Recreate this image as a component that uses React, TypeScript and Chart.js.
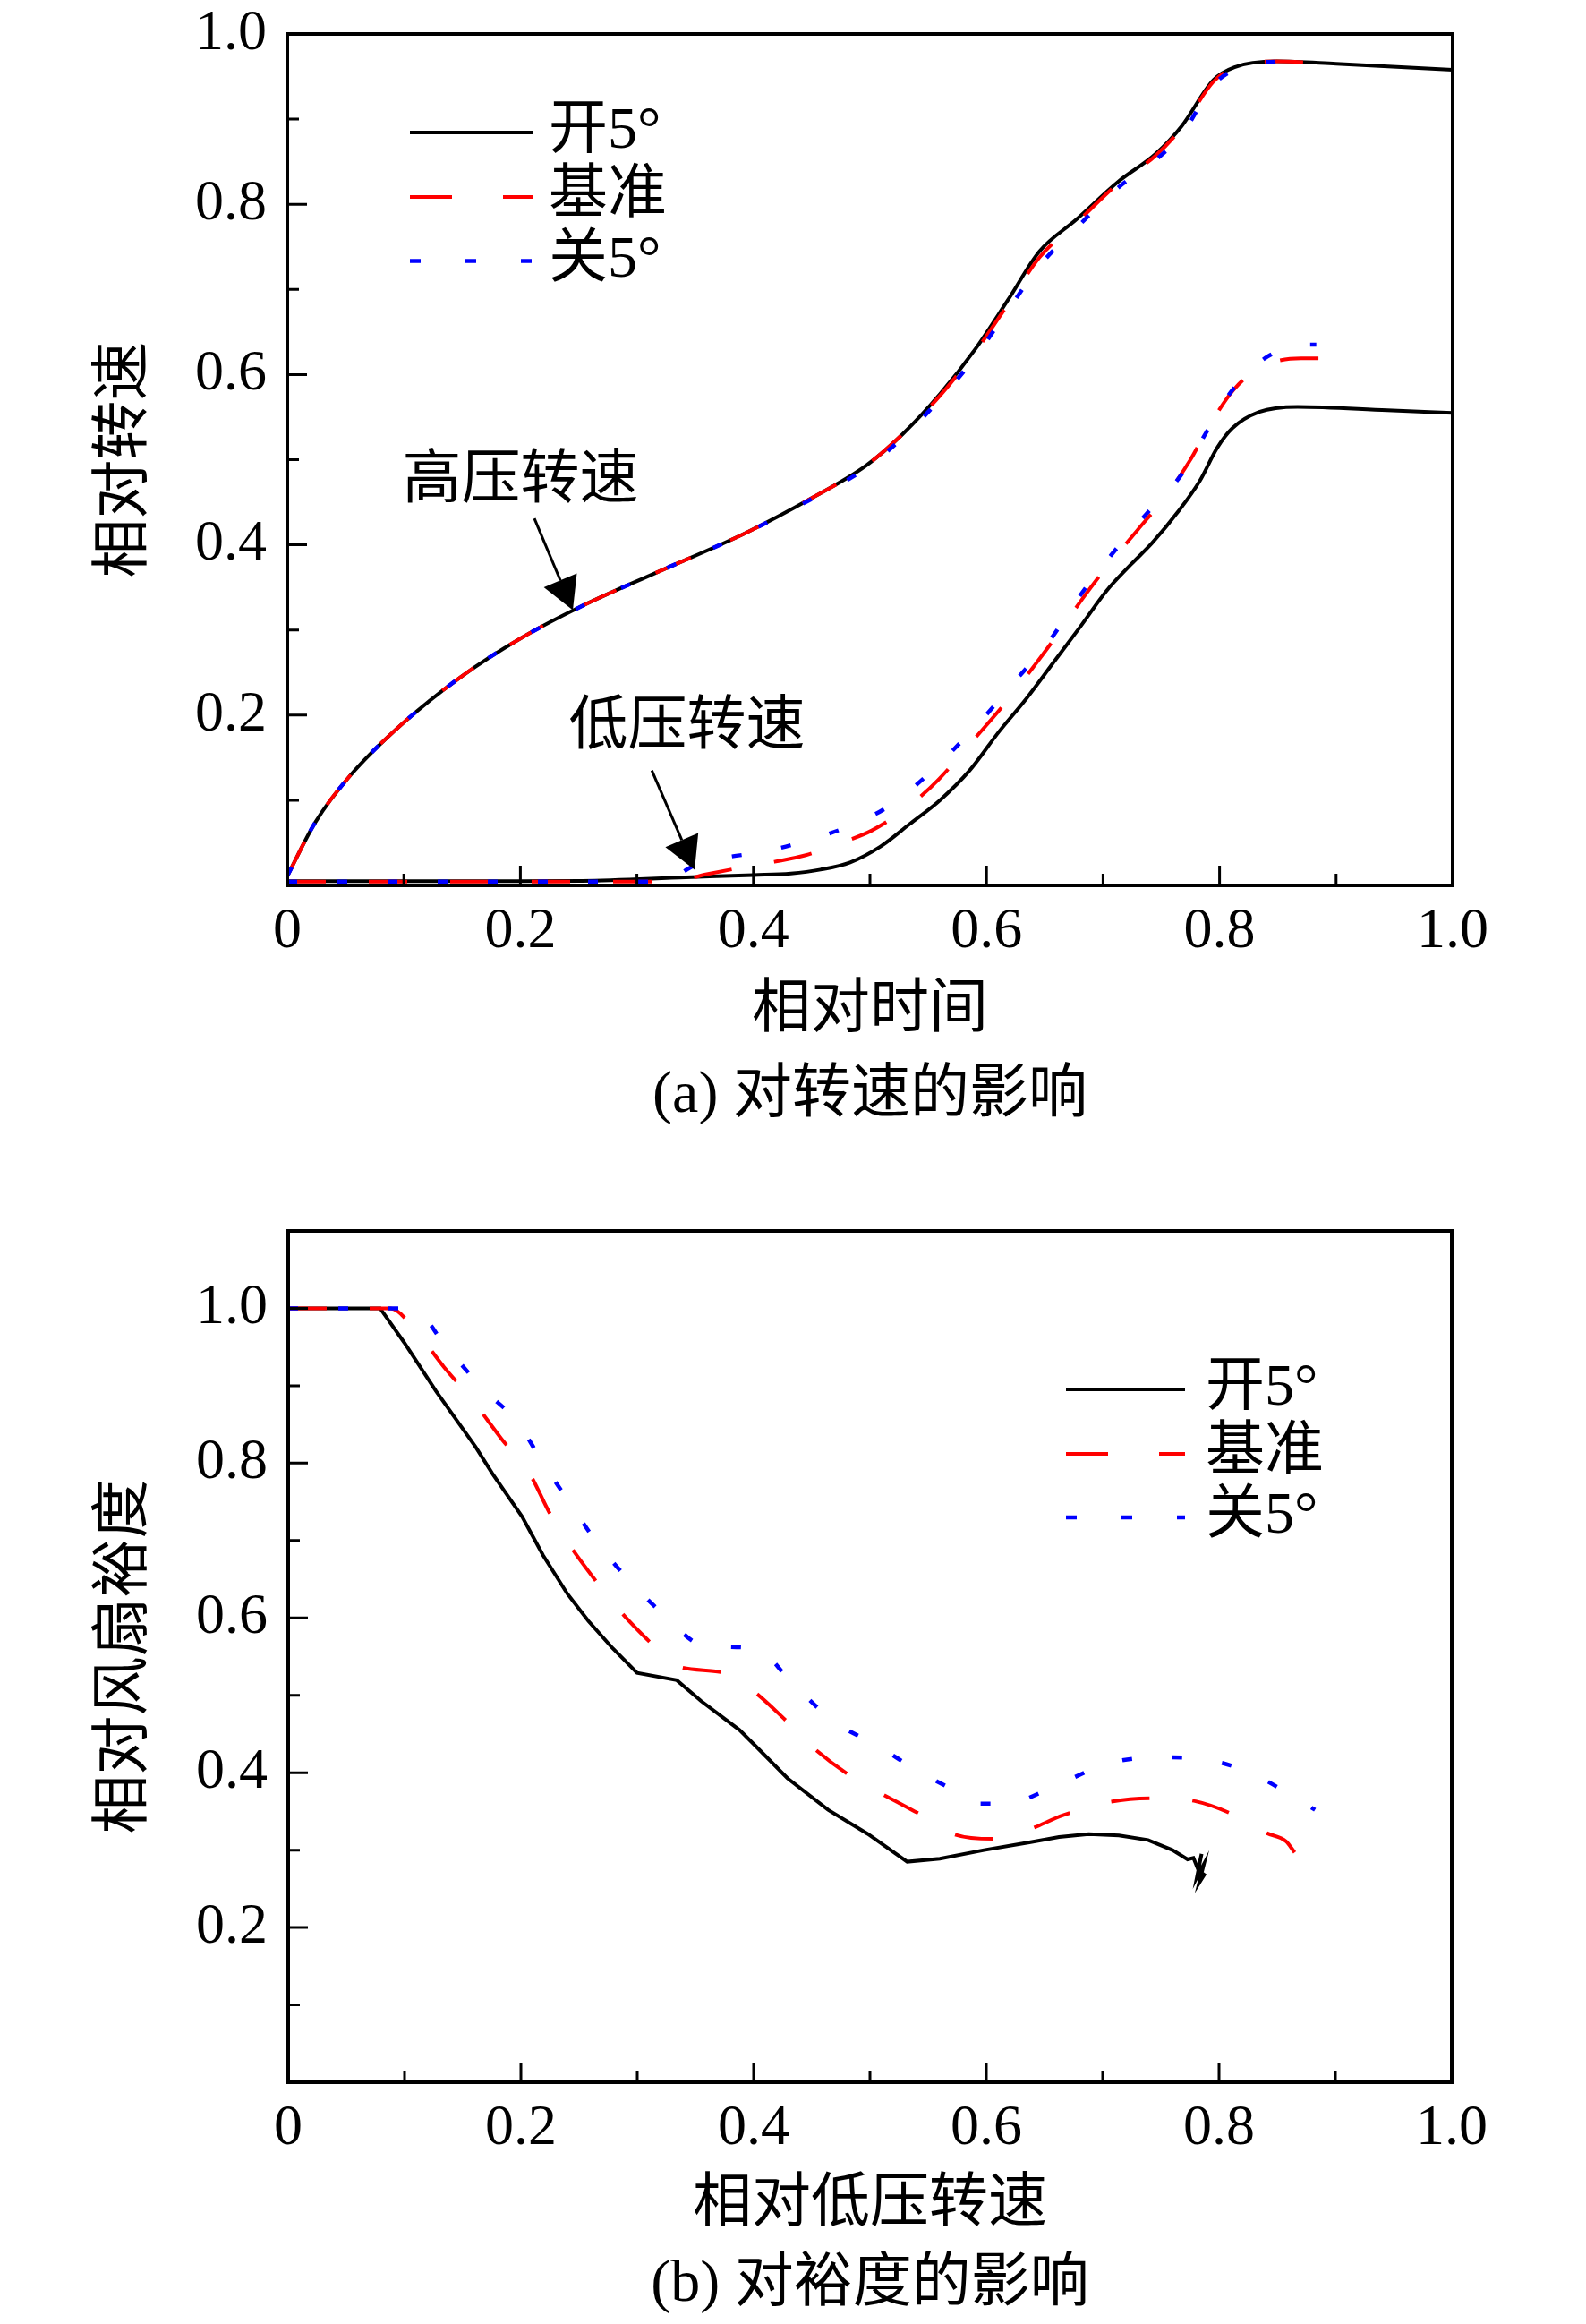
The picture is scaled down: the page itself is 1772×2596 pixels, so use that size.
import React, { useEffect, useRef } from 'react';
import { Chart, registerables } from 'chart.js';

Chart.register(...registerables);

// ---------- shared ----------
const SERIES_NAMES = ['开5°', '基准', '关5°'];
const SERIES_COLORS = ['#000000', '#ff0000', '#0000ff'];

// ---------- (a) speed vs time ----------
const TIME_TICKS = [0, 0.2, 0.4, 0.6, 0.8, 1.0];
const TIME_MINOR = [0.1, 0.3, 0.5, 0.7, 0.9];
const SPEED_TICKS = [0.2, 0.4, 0.6, 0.8, 1.0];
const SPEED_MINOR = [0.1, 0.3, 0.5, 0.7, 0.9];

// high-pressure spool speed
const hpOpenT = [0, 0.024, 0.054, 0.098, 0.149, 0.2, 0.2527, 0.3167, 0.3935, 0.4515, 0.4966, 0.528, 0.56, 0.591, 0.6186, 0.6456, 0.677, 0.7134, 0.745, 0.7676, 0.7947, 0.8128, 0.849, 0.9, 1.0];
const hpOpenN = [0.011, 0.074, 0.129, 0.189, 0.245, 0.29, 0.328, 0.3674, 0.414, 0.456, 0.493, 0.53, 0.577, 0.631, 0.688, 0.745, 0.782, 0.827, 0.859, 0.892, 0.946, 0.961, 0.9678, 0.965, 0.958];
const hpBaseT = [0, 0.024, 0.054, 0.098, 0.149, 0.2, 0.2527, 0.3167, 0.3935, 0.4515, 0.4966, 0.528, 0.56, 0.591, 0.6186, 0.6456, 0.677, 0.7134, 0.745, 0.7676, 0.7947, 0.8128, 0.849, 0.885];
const hpBaseN = [0.011, 0.074, 0.129, 0.189, 0.245, 0.29, 0.328, 0.3674, 0.414, 0.456, 0.493, 0.53, 0.575, 0.628, 0.683, 0.738, 0.778, 0.825, 0.857, 0.89, 0.944, 0.961, 0.9678, 0.966];
const hpCloseT = [0, 0.024, 0.054, 0.098, 0.149, 0.2, 0.2527, 0.3167, 0.3935, 0.4515, 0.4966, 0.528, 0.56, 0.591, 0.6186, 0.6456, 0.677, 0.7134, 0.745, 0.7676, 0.7947, 0.8128, 0.849, 0.87];
const hpCloseN = [0.011, 0.074, 0.129, 0.189, 0.245, 0.29, 0.328, 0.3674, 0.414, 0.455, 0.49, 0.526, 0.571, 0.622, 0.676, 0.728, 0.772, 0.82, 0.852, 0.882, 0.94, 0.958, 0.9675, 0.967];

// low-pressure spool speed
const lpOpenT = [0, 0.2, 0.2527, 0.342, 0.4, 0.432, 0.4575, 0.483, 0.509, 0.534, 0.56, 0.5855, 0.611, 0.634, 0.657, 0.68, 0.703, 0.724, 0.742, 0.765, 0.783, 0.798, 0.811, 0.834, 0.867, 0.944, 1.0];
const lpOpenN = [0.005, 0.005, 0.0053, 0.0095, 0.0122, 0.014, 0.0185, 0.027, 0.0456, 0.072, 0.1, 0.135, 0.181, 0.219, 0.261, 0.303, 0.346, 0.377, 0.402, 0.44, 0.475, 0.514, 0.537, 0.556, 0.562, 0.558, 0.555];
const lpBaseT = [0, 0.331, 0.359, 0.386, 0.418, 0.445, 0.477, 0.502, 0.534, 0.5586, 0.587, 0.616, 0.641, 0.66, 0.683, 0.703, 0.73, 0.753, 0.775, 0.79, 0.812, 0.836, 0.87, 0.901];
const lpBaseN = [0.0045, 0.0045, 0.0128, 0.02, 0.0277, 0.0355, 0.0508, 0.0648, 0.0937, 0.124, 0.168, 0.214, 0.258, 0.293, 0.338, 0.374, 0.418, 0.456, 0.5, 0.537, 0.582, 0.609, 0.619, 0.619];
const lpCloseT = [0, 0.33, 0.337, 0.346, 0.372, 0.409, 0.447, 0.481, 0.515, 0.548, 0.582, 0.597, 0.6226, 0.655, 0.679, 0.707, 0.737, 0.767, 0.789, 0.81, 0.841, 0.877, 0.883];
const lpCloseN = [0.0045, 0.0045, 0.013, 0.021, 0.0316, 0.0396, 0.053, 0.069, 0.092, 0.128, 0.174, 0.196, 0.237, 0.289, 0.338, 0.388, 0.436, 0.482, 0.533, 0.58, 0.621, 0.635, 0.635];

const TEXT_A = ['相对时间', '相对转速', '(a) 对转速的影响'];
const ANNOTATION_TEXT = ['高压转速', '低压转速'];

// ---------- (b) fan margin vs LP speed ----------
const LPS_TICKS = [0, 0.2, 0.4, 0.6, 0.8, 1.0];
const LPS_MINOR = [0.1, 0.3, 0.5, 0.7, 0.9];
const MARGIN_TICKS = [0.2, 0.4, 0.6, 0.8, 1.0];
const MARGIN_MINOR = [0.1, 0.3, 0.5, 0.7, 0.9];

const mOpenX = [0, 0.079, 0.0996, 0.127, 0.161, 0.1754, 0.201, 0.219, 0.24, 0.258, 0.2787, 0.2998, 0.334, 0.355, 0.388, 0.402, 0.429, 0.464, 0.498, 0.532, 0.56, 0.598, 0.637, 0.6625, 0.688, 0.714, 0.739, 0.76, 0.773, 0.778, 0.782, 0.785, 0.781, 0.787, 0.783, 0.788, 0.784];
const mOpenY = [1.0, 1.0, 0.956, 0.893, 0.821, 0.7867, 0.731, 0.681, 0.631, 0.596, 0.561, 0.529, 0.5195, 0.4924, 0.455, 0.434, 0.393, 0.352, 0.321, 0.285, 0.289, 0.3, 0.31, 0.317, 0.3207, 0.319, 0.313, 0.3, 0.288, 0.29, 0.275, 0.295, 0.265, 0.282, 0.258, 0.27, 0.262];
const mBaseX = [0, 0.088, 0.11, 0.134, 0.158, 0.183, 0.208, 0.2246, 0.241, 0.2638, 0.2836, 0.3087, 0.3344, 0.375, 0.4002, 0.426, 0.45, 0.481, 0.505, 0.536, 0.56, 0.568, 0.607, 0.635, 0.666, 0.701, 0.744, 0.78, 0.815, 0.841, 0.8575, 0.865];
const mBaseY = [1.0, 1.0, 0.97, 0.924, 0.882, 0.832, 0.785, 0.7357, 0.696, 0.649, 0.6116, 0.572, 0.5375, 0.529, 0.505, 0.47, 0.434, 0.398, 0.377, 0.352, 0.3327, 0.323, 0.3145, 0.3257, 0.345, 0.361, 0.367, 0.363, 0.344, 0.322, 0.3115, 0.297];
const mCloseX = [0, 0.106, 0.137, 0.168, 0.1967, 0.2185, 0.2428, 0.2656, 0.2933, 0.3236, 0.357, 0.401, 0.4364, 0.47, 0.505, 0.546, 0.587, 0.594, 0.624, 0.632, 0.66, 0.709, 0.753, 0.799, 0.836, 0.865, 0.8825];
const mCloseY = [1.0, 1.0, 0.948, 0.895, 0.8535, 0.8015, 0.7465, 0.697, 0.648, 0.603, 0.5643, 0.5605, 0.5105, 0.465, 0.436, 0.398, 0.366, 0.36, 0.36, 0.3645, 0.3835, 0.4135, 0.42, 0.414, 0.393, 0.368, 0.352];

const TEXT_B = ['相对低压转速', '相对风扇裕度', '(b) 对裕度的影响'];

// ---------- styling ----------
const FAMILY = '"Liberation Serif", "Noto Sans CJK SC", serif';
const TICK_SIZE = 64;
const TEXT_SIZE = 66;
const DASHES = [[], [43, 48], [11, 45]];
const LEGEND_DASHES = [[], [47, 57], [12, 50]];
const WIDTHS = [4, 4, 4.5];
const CANVAS_W = 1772;
const CANVAS_H = 1298;

const pts = (xs: number[], ys: number[]) => xs.map((x, i) => ({ x, y: ys[i] }));
const fmt = (v: number) => (v === 0 ? '0' : v.toFixed(1));

function makeDataset(idx: number, data: { x: number; y: number }[], smooth: boolean) {
  return {
    label: SERIES_NAMES[idx],
    data,
    borderColor: SERIES_COLORS[idx],
    backgroundColor: SERIES_COLORS[idx],
    borderWidth: WIDTHS[idx],
    borderDash: DASHES[idx],
    borderCapStyle: 'butt' as const,
    pointRadius: 0,
    fill: false,
    order: 2 - idx,
    tension: smooth ? 0.4 : 0,
    cubicInterpolationMode: smooth ? ('monotone' as const) : ('default' as const),
  };
}

function framePlugin(xMajor: number[], xMinor: number[], yMajor: number[], yMinor: number[]) {
  return {
    id: 'frameTicks',
    afterDatasetsDraw(chart: any) {
      const { ctx, chartArea: a } = chart;
      const xs = chart.scales.x;
      const ys = chart.scales.y;
      ctx.save();
      ctx.setLineDash([]);
      ctx.strokeStyle = '#000';
      ctx.lineWidth = 3;
      ctx.beginPath();
      const major = 22;
      const minor = 13;
      xMajor.forEach((v) => { const p = xs.getPixelForValue(v); ctx.moveTo(p, a.bottom); ctx.lineTo(p, a.bottom - major); });
      xMinor.forEach((v) => { const p = xs.getPixelForValue(v); ctx.moveTo(p, a.bottom); ctx.lineTo(p, a.bottom - minor); });
      yMajor.forEach((v) => { const p = ys.getPixelForValue(v); ctx.moveTo(a.left, p); ctx.lineTo(a.left + major, p); });
      yMinor.forEach((v) => { const p = ys.getPixelForValue(v); ctx.moveTo(a.left, p); ctx.lineTo(a.left + minor, p); });
      ctx.stroke();
      ctx.lineWidth = 4;
      ctx.strokeRect(a.left, a.top, a.right - a.left, a.bottom - a.top);
      ctx.restore();
    },
  };
}

function legendPlugin(x0: number, x1: number, textX: number, rows: number[]) {
  return {
    id: 'customLegend',
    afterDatasetsDraw(chart: any) {
      const { ctx, chartArea: a } = chart;
      ctx.save();
      ctx.font = `${TEXT_SIZE}px ${FAMILY}`;
      ctx.textAlign = 'left';
      ctx.textBaseline = 'middle';
      SERIES_NAMES.forEach((name, i) => {
        const y = a.top + rows[i];
        ctx.strokeStyle = SERIES_COLORS[i];
        ctx.lineWidth = WIDTHS[i];
        ctx.lineCap = 'butt';
        ctx.setLineDash(LEGEND_DASHES[i]);
        ctx.beginPath();
        ctx.moveTo(a.left + x0, y);
        ctx.lineTo(a.left + x1, y);
        ctx.stroke();
        ctx.setLineDash([]);
        ctx.fillStyle = '#000';
        ctx.fillText(name, a.left + textX, y);
      });
      ctx.restore();
    },
  };
}

function captionPlugin(text: string, offset: number) {
  return {
    id: 'caption',
    afterDraw(chart: any) {
      const { ctx, chartArea: a } = chart;
      ctx.save();
      ctx.font = `${TEXT_SIZE}px ${FAMILY}`;
      ctx.fillStyle = '#000';
      ctx.textAlign = 'center';
      ctx.textBaseline = 'middle';
      ctx.fillText(text, (a.left + a.right) / 2, a.bottom + offset);
      ctx.restore();
    },
  };
}

type Note = { text: string; tx: number; ty: number; fx: number; fy: number; px: number; py: number };

function arrowPlugin(notes: Note[]) {
  return {
    id: 'arrows',
    afterDatasetsDraw(chart: any) {
      const { ctx } = chart;
      const xs = chart.scales.x;
      const ys = chart.scales.y;
      ctx.save();
      ctx.setLineDash([]);
      ctx.font = `${TEXT_SIZE}px ${FAMILY}`;
      ctx.fillStyle = '#000';
      ctx.strokeStyle = '#000';
      ctx.textAlign = 'center';
      ctx.textBaseline = 'middle';
      notes.forEach((n) => {
        ctx.fillText(n.text, xs.getPixelForValue(n.tx), ys.getPixelForValue(n.ty));
        const x1 = xs.getPixelForValue(n.fx);
        const y1 = ys.getPixelForValue(n.fy);
        const x2 = xs.getPixelForValue(n.px);
        const y2 = ys.getPixelForValue(n.py);
        const ang = Math.atan2(y2 - y1, x2 - x1);
        const hl = 36;
        const hw = 20;
        const bx = x2 - hl * Math.cos(ang);
        const by = y2 - hl * Math.sin(ang);
        ctx.lineWidth = 3;
        ctx.beginPath();
        ctx.moveTo(x1, y1);
        ctx.lineTo(bx, by);
        ctx.stroke();
        ctx.beginPath();
        ctx.moveTo(x2, y2);
        ctx.lineTo(bx - hw * Math.sin(ang), by + hw * Math.cos(ang));
        ctx.lineTo(bx + hw * Math.sin(ang), by - hw * Math.cos(ang));
        ctx.closePath();
        ctx.fill();
      });
      ctx.restore();
    },
  };
}

type Layout = {
  padTop: number; padRight: number; yWidth: number; xHeight: number;
  xTickPad: number; yTickPad: number; xTitlePad: number; yTitlePad: number;
};

function buildOptions(
  lay: Layout, xTicks: number[], yTicks: number[], yMax: number, xTitle: string, yTitle: string,
) {
  const tickFont = { family: FAMILY, size: TICK_SIZE, lineHeight: 1.2 };
  const titleFont = { family: FAMILY, size: TEXT_SIZE, lineHeight: 1.2 };
  return {
    responsive: false,
    maintainAspectRatio: false,
    animation: false as const,
    devicePixelRatio: 1,
    layout: { padding: { top: lay.padTop, right: lay.padRight, left: 0, bottom: 0 } },
    plugins: { legend: { display: false }, tooltip: { enabled: false } },
    scales: {
      x: {
        type: 'linear' as const,
        min: 0,
        max: 1,
        grid: { display: false, drawTicks: false },
        border: { display: false },
        afterBuildTicks: (s: any) => { s.ticks = xTicks.map((v) => ({ value: v })); },
        afterFit: (s: any) => { s.height = lay.xHeight; s.paddingLeft = 0; s.paddingRight = 0; },
        ticks: {
          autoSkip: false, maxRotation: 0, minRotation: 0, color: '#000', font: tickFont,
          padding: lay.xTickPad, callback: (v: any) => fmt(Number(v)),
        },
        title: { display: true, text: xTitle, color: '#000', font: titleFont, padding: { top: 0, bottom: lay.xTitlePad } },
      },
      y: {
        type: 'linear' as const,
        min: 0,
        max: yMax,
        grid: { display: false, drawTicks: false },
        border: { display: false },
        afterBuildTicks: (s: any) => { s.ticks = yTicks.map((v) => ({ value: v })); },
        afterFit: (s: any) => { s.width = lay.yWidth; s.paddingTop = 0; s.paddingBottom = 0; },
        ticks: {
          autoSkip: false, color: '#000', font: tickFont, padding: lay.yTickPad,
          callback: (v: any) => fmt(Number(v)),
        },
        title: { display: true, text: yTitle, color: '#000', font: titleFont, padding: { top: lay.yTitlePad, bottom: 0 } },
      },
    },
  };
}

function configA() {
  const lay: Layout = { padTop: 38, padRight: 149, yWidth: 321, xHeight: 309, xTickPad: 14, yTickPad: 23, xTitlePad: 129, yTitlePad: 101 };
  const notes: Note[] = [
    { text: ANNOTATION_TEXT[0], tx: 0.2, ty: 0.474, fx: 0.212, fy: 0.431, px: 0.245, py: 0.3234 },
    { text: ANNOTATION_TEXT[1], tx: 0.343, ty: 0.1845, fx: 0.3128, fy: 0.135, px: 0.3495, py: 0.0185 },
  ];
  return {
    type: 'line' as const,
    data: {
      datasets: [
        makeDataset(0, pts(hpOpenT, hpOpenN), true),
        makeDataset(0, pts(lpOpenT, lpOpenN), true),
        makeDataset(1, pts(hpBaseT, hpBaseN), true),
        makeDataset(1, pts(lpBaseT, lpBaseN), true),
        makeDataset(2, pts(hpCloseT, hpCloseN), true),
        makeDataset(2, pts(lpCloseT, lpCloseN), true),
      ],
    },
    options: buildOptions(lay, TIME_TICKS, SPEED_TICKS, 1.0, TEXT_A[0], TEXT_A[1]),
    plugins: [
      framePlugin(TIME_TICKS, TIME_MINOR, SPEED_TICKS, SPEED_MINOR),
      legendPlugin(137, 274, 292, [110, 182, 253.5]),
      arrowPlugin(notes),
      captionPlugin(TEXT_A[2], 235.5),
    ],
  };
}

function configB() {
  const lay: Layout = { padTop: 77, padRight: 150, yWidth: 322, xHeight: 270, xTickPad: 14, yTickPad: 23, xTitlePad: 93, yTitlePad: 101 };
  return {
    type: 'line' as const,
    data: {
      datasets: [
        makeDataset(0, pts(mOpenX, mOpenY), false),
        makeDataset(1, pts(mBaseX, mBaseY), true),
        makeDataset(2, pts(mCloseX, mCloseY), true),
      ],
    },
    options: buildOptions(lay, LPS_TICKS, MARGIN_TICKS, 1.1, TEXT_B[0], TEXT_B[1]),
    plugins: [
      framePlugin(LPS_TICKS, LPS_MINOR, MARGIN_TICKS, MARGIN_MINOR),
      legendPlugin(869, 1002, 1025, [177, 249, 320]),
      captionPlugin(TEXT_B[2], 227),
    ],
  };
}

function ChartCanvas({ make, top }: { make: () => any; top: number }) {
  const ref = useRef<HTMLCanvasElement>(null);
  useEffect(() => {
    if (!ref.current) return;
    const chart = new Chart(ref.current, make());
    return () => chart.destroy();
  }, [make]);
  return (
    <canvas
      ref={ref}
      width={CANVAS_W}
      height={CANVAS_H}
      style={{ position: 'absolute', left: 0, top, width: CANVAS_W, height: CANVAS_H, display: 'block' }}
    />
  );
}

export default function App() {
  return (
    <div style={{ position: 'absolute', left: 0, top: 0, width: CANVAS_W, height: 2596, background: '#ffffff', overflow: 'hidden' }}>
      <ChartCanvas make={configA} top={0} />
      <ChartCanvas make={configB} top={1298} />
    </div>
  );
}
